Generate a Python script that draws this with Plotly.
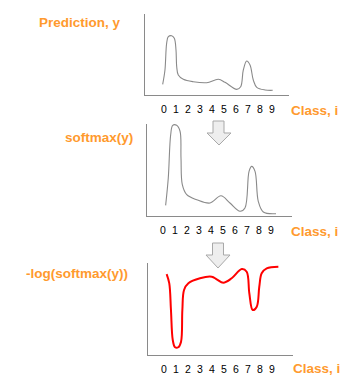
import plotly.graph_objects as go

W, H = 363, 388

# ---- data (class position, relative value) ----
classes = list(range(10))
class_labels = [str(c) for c in classes]

pred_x = [-0.11, 0.08, 0.22, 0.36, 0.64, 0.86, 1.0, 1.06, 1.19, 1.61, 2.44, 3.56, 4.53, 5.08,
          6.06, 6.39, 6.61, 6.89, 7.17, 7.44, 7.73, 8.42, 9.06]
pred_y = [13.2, 30.9, 63.8, 72.0, 73.2, 70.0, 55.6, 34.9, 24.7, 19.4, 16.4, 15.2, 19.4, 15.7,
          7.0, 10.2, 30.9, 42.0, 37.0, 18.5, 9.5, 6.2, 5.8]

soft_x = [0.22, 0.44, 0.64, 0.81, 1.14, 1.42, 1.5, 1.61, 1.98, 2.81, 3.92, 4.83, 5.58, 6.42,
          6.83, 7.17, 7.39, 7.67, 7.94, 8.36, 9.42]
soft_y = [12.0, 42.7, 91.3, 101.9, 101.9, 95.2, 65.2, 35.2, 23.9, 18.3, 14.6, 22.8, 14.6, 5.3,
          9.0, 50.2, 55.8, 50.2, 16.5, 4.5, 2.6]

nll_x = [0.22, 0.44, 0.58, 0.73, 0.92, 1.19, 1.42, 1.53, 1.67, 2.03, 3.0, 3.98, 4.39, 4.94,
         5.64, 6.48, 6.89, 7.11, 7.39, 7.73, 7.94, 8.14, 8.56, 9.53]
nll_y = [88.0, 77.9, 48.9, 16.3, 8.4, 8.4, 14.5, 48.9, 70.7, 77.9, 83.4, 85.1, 82.3, 78.6,
         83.4, 93.5, 90.5, 67.1, 48.9, 52.5, 74.2, 88.8, 94.2, 96.0]

titles = ["Prediction, y", "softmax(y)", "-log(softmax(y))"]
xlabel = "Class, i"

ORANGE = "#ff9a2e"
GRAY = "#8a8a8a"
FONT = "Liberation Sans, Arial, sans-serif"


def px(x):
    return x / W


def py(y):
    return 1 - y / H


fig = go.Figure()
fig.add_trace(go.Scatter(x=pred_x, y=pred_y, mode="lines", line=dict(color=GRAY, width=1.1, shape="spline", smoothing=1.0),
                         xaxis="x", yaxis="y", showlegend=False, hoverinfo="skip"))
fig.add_trace(go.Scatter(x=soft_x, y=soft_y, mode="lines", line=dict(color=GRAY, width=1.1, shape="spline", smoothing=1.0),
                         xaxis="x2", yaxis="y2", showlegend=False, hoverinfo="skip"))
fig.add_trace(go.Scatter(x=nll_x, y=nll_y, mode="lines", line=dict(color="#ff0000", width=2, shape="spline", smoothing=1.0),
                         xaxis="x3", yaxis="y3", showlegend=False, hoverinfo="skip"))

xcommon = dict(showline=True, linecolor=GRAY, linewidth=1.3, showgrid=False, zeroline=False,
               tickmode="array", tickvals=classes, ticktext=class_labels,
               ticks="outside", ticklen=4, tickcolor="rgba(0,0,0,0)",
               tickfont=dict(family=FONT, size=10.5, color="#000000"), fixedrange=True)
ycommon = dict(showline=True, linecolor=GRAY, linewidth=1.3, showgrid=False, zeroline=False,
               showticklabels=False, ticks="", fixedrange=True)

panels = [
    # x-domain px, y-domain px (bottom, top), x range, y range
    ((145, 289), (95, 14), (-19 / 12, -19 / 12 + 144 / 12), (0, 100)),
    ((147, 292), (216, 124), (-16 / 12, -16 / 12 + 145 / 12), (0, 100 * 92 / 89)),
    ((148, 293), (355, 263), (-16 / 12, -16 / 12 + 145 / 12), (0, 100)),
]

layout = dict(width=W, height=H, margin=dict(l=0, r=0, t=0, b=0),
              paper_bgcolor="white", plot_bgcolor="rgba(0,0,0,0)", showlegend=False)
for i, (xd, yd, xr, yr) in enumerate(panels):
    sfx = "" if i == 0 else str(i + 1)
    layout["xaxis" + sfx] = dict(xcommon, domain=[px(xd[0]), px(xd[1])], range=list(xr),
                                 anchor="y" + sfx)
    layout["yaxis" + sfx] = dict(ycommon, domain=[py(yd[0]), py(yd[1])], range=list(yr),
                                 anchor="x" + sfx)
fig.update_layout(**layout)

# titles and axis labels
title_pos = [(123, 22), (135, 137), (130, 273)]
class_pos = [(289, 110), (289, 231), (291, 368)]
for t, (tx, ty), (cx, cy) in zip(titles, title_pos, class_pos):
    fig.add_annotation(text=t, x=px(tx), y=py(ty), xref="paper", yref="paper",
                       xanchor="right", yanchor="middle", showarrow=False,
                       font=dict(family=FONT, size=13.5, color=ORANGE, weight="bold"))
    fig.add_annotation(text=xlabel, x=px(cx), y=py(cy), xref="paper", yref="paper",
                       xanchor="left", yanchor="middle", showarrow=False,
                       font=dict(family=FONT, size=13.5, color=ORANGE, weight="bold"))


# down arrows between panels
def arrow(x0, x1, top, head_y, hx0, hx1, tip_y):
    tipx = (hx0 + hx1) / 2
    pts = [(x0, top), (x1, top), (x1, head_y), (hx1, head_y), (tipx, tip_y), (hx0, head_y), (x0, head_y)]
    path = "M " + " L ".join(f"{px(a):.5f},{py(b):.5f}" for a, b in pts) + " Z"
    fig.add_shape(type="path", path=path, xref="paper", yref="paper",
                  fillcolor="#eeeeee", line=dict(color="#a8a8a8", width=1))


arrow(213, 224, 121, 133, 207, 231, 145)
arrow(212.5, 223.5, 243, 255, 206, 230, 268)

fig.write_html("out.html", config={"displayModeBar": False, "staticPlot": True},
               post_script="document.body.style.margin='0';document.body.style.padding='0';"
                           "document.body.style.overflow='hidden';")
